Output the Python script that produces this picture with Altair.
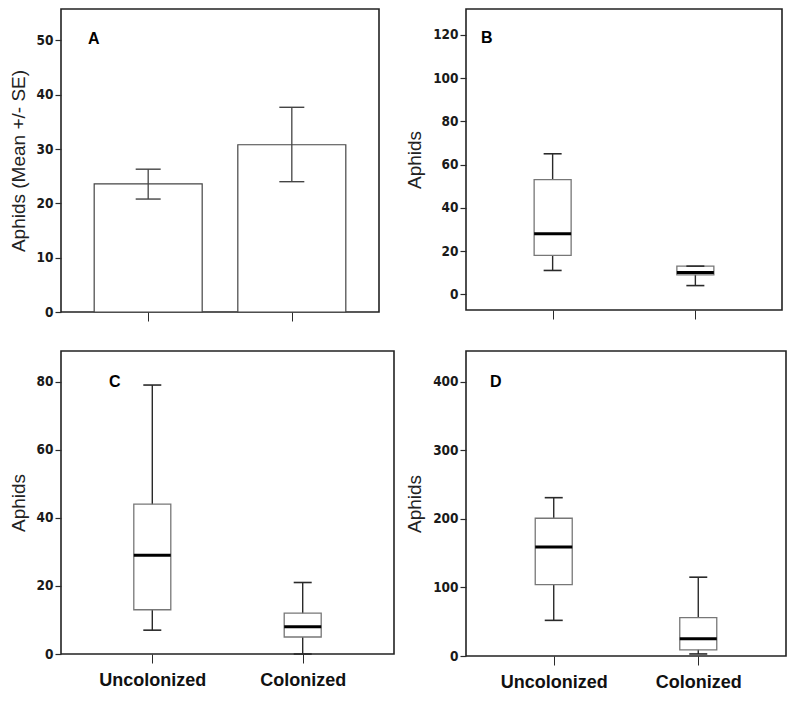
import altair as alt
import pandas as pd

# ---------------- data ----------------
groups = ["Uncolonized", "Colonized"]

# Panel A: mean +/- SE
a_mean = [23.6, 30.8]
a_lo = [20.8, 24.0]
a_hi = [26.3, 37.7]

# Panel B: box plot stats (low whisker, Q1, median, Q3, high whisker)
b_low = [11, 4]
b_q1 = [18, 9]
b_med = [28, 10]
b_q3 = [53, 13]
b_high = [65, 13]

# Panel C
c_low = [7, 0]
c_q1 = [13, 5]
c_med = [29, 8]
c_q3 = [44, 12]
c_high = [79, 21]

# Panel D
d_low = [52, 3]
d_q1 = [104, 9]
d_med = [159, 25]
d_q3 = [201, 56]
d_high = [231, 115]

a_ticks = [0, 10, 20, 30, 40, 50]
b_ticks = [0, 20, 40, 60, 80, 100, 120]
c_ticks = [0, 20, 40, 60, 80]
d_ticks = [0, 100, 200, 300, 400]

panel_letters = ["A", "B", "C", "D"]

# ---------------- style ----------------
TICK_FONT = "DejaVu Sans Condensed, Liberation Sans Narrow, sans-serif"
TEXT_FONT = "Liberation Sans, Arial, sans-serif"
DARK = "#2a2a2a"


def x_enc(show_labels):
    return alt.X(
        "cat:N",
        sort=groups,
        scale=alt.Scale(type="point", padding=0.607),
        axis=alt.Axis(
            title=None,
            labels=show_labels,
            domain=False,
            ticks=True,
            tickSize=9,
            tickColor=DARK,
            tickWidth=1,
            labelAngle=0,
            labelFont=TEXT_FONT,
            labelFontSize=18,
            labelFontWeight="bold",
            labelColor="#111",
            labelPadding=8,
        ),
    )


def y_axis(title, ticks):
    return alt.Axis(
        title=title,
        values=ticks,
        grid=False,
        domain=False,
        tickSize=6,
        tickColor=DARK,
        tickWidth=1.2,
        labelFont=TICK_FONT,
        labelFontSize=13.5,
        labelFontWeight="bold",
        labelColor="#1a1a1a",
        labelPadding=2,
        titleFont=TEXT_FONT,
        titleFontSize=19,
        titleFontWeight="normal",
        titleColor="#222",
        titlePadding=8,
    )


def letter_layer(letter, px, py):
    return (
        alt.Chart(pd.DataFrame({"label": [letter]}))
        .mark_text(align="left", baseline="top", font=TEXT_FONT, fontSize=16,
                   fontWeight="bold", color="black")
        .encode(x=alt.value(px), y=alt.value(py), text="label:N")
    )


def box_panel(low, q1, med, q3, high, domain, ticks, w, h, letter, lx, ly, show_labels):
    df = pd.DataFrame({"cat": groups, "low": low, "q1": q1, "med": med,
                       "q3": q3, "high": high})
    base = alt.Chart(df)
    ysc = alt.Scale(domain=domain, nice=False, zero=False)
    x = x_enc(show_labels)
    whisk = base.mark_rule(color=DARK, strokeWidth=1.4).encode(
        x=x,
        y=alt.Y("low:Q", scale=ysc, axis=y_axis("Aphids", ticks)),
        y2="high:Q",
    )
    box = base.mark_bar(size=37, fill="white", stroke="#777", strokeWidth=1.3,
                        opacity=1).encode(
        x=x, y=alt.Y("q1:Q", scale=ysc), y2="q3:Q"
    )
    median = base.mark_tick(size=37, thickness=3, color="black", opacity=1).encode(
        x=x, y=alt.Y("med:Q", scale=ysc)
    )
    cap_lo = base.mark_tick(size=18, thickness=1.6, color=DARK, opacity=1).encode(
        x=x, y=alt.Y("low:Q", scale=ysc)
    )
    cap_hi = base.mark_tick(size=18, thickness=1.6, color=DARK, opacity=1).encode(
        x=x, y=alt.Y("high:Q", scale=ysc)
    )
    return alt.layer(whisk, box, median, cap_lo, cap_hi,
                     letter_layer(letter, lx, ly)).properties(width=w, height=h)


# Panel A
dfa = pd.DataFrame({"cat": groups, "mean": a_mean, "lo": a_lo, "hi": a_hi})
ysa = alt.Scale(domain=[0, 55.8], nice=False, zero=False)
xa = x_enc(False)
bars_a = alt.Chart(dfa).mark_bar(size=108, fill="white", stroke="#444",
                                 strokeWidth=1.2, opacity=1).encode(
    x=xa,
    y=alt.Y("mean:Q", scale=ysa, axis=y_axis("Aphids (Mean +/- SE)", a_ticks)),
)
err_a = alt.Chart(dfa).mark_rule(color="#444", strokeWidth=1.3).encode(
    x=xa, y=alt.Y("lo:Q", scale=ysa), y2="hi:Q"
)
caplo_a = alt.Chart(dfa).mark_tick(size=25, thickness=1.4, color="#444", opacity=1).encode(
    x=xa, y=alt.Y("lo:Q", scale=ysa)
)
caphi_a = alt.Chart(dfa).mark_tick(size=25, thickness=1.4, color="#444", opacity=1).encode(
    x=xa, y=alt.Y("hi:Q", scale=ysa)
)
panel_a = alt.layer(bars_a, err_a, caplo_a, caphi_a,
                    letter_layer(panel_letters[0], 27, 22)).properties(width=318, height=303)

panel_b = box_panel(b_low, b_q1, b_med, b_q3, b_high, [-7.3, 132], b_ticks,
                    316, 301, panel_letters[1], 15, 21, False)
panel_c = box_panel(c_low, c_q1, c_med, c_q3, c_high, [0, 89], c_ticks,
                    333, 303, panel_letters[2], 48, 23, True)
panel_d = box_panel(d_low, d_q1, d_med, d_q3, d_high, [0, 445], d_ticks,
                    320, 305, panel_letters[3], 24, 23, True)

chart = (
    alt.concat(panel_a, panel_b, panel_c, panel_d, columns=2,
               spacing={"row": 39, "column": 72}, bounds="flush")
    .properties(padding=0, background="white")
    .configure_view(stroke="#222", strokeWidth=1.6)
)

chart.save("out.html", embed_options={"renderer": "svg", "actions": False})
